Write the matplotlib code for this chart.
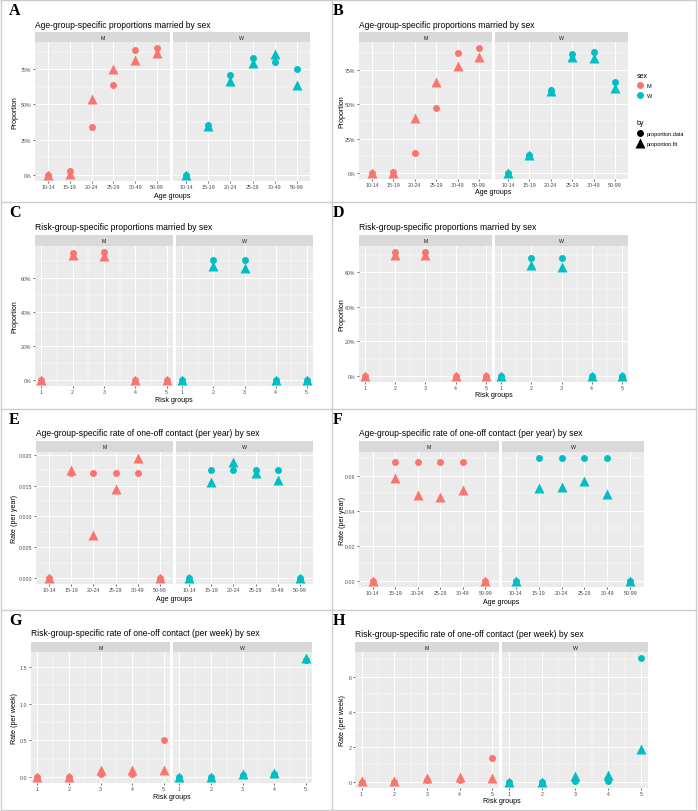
import matplotlib
matplotlib.use('Agg')
import matplotlib.pyplot as plt
from matplotlib.lines import Line2D
from matplotlib.ticker import AutoMinorLocator, FixedLocator, FuncFormatter
import numpy as np

plt.rcParams['font.family'] = ['Liberation Sans', 'DejaVu Sans']

RED = '#F8766D'
CYAN = '#00BFC4'

age_groups = ['10-14', '15-19', '20-24', '25-29', '30-49', '50-99']
risk_groups = [1, 2, 3, 4, 5]

# A: age-group-specific proportions married
a_m_data = [0.0, 0.024, 0.34, 0.64, 0.89, 0.90]
a_m_fit = [0.0, 0.005, 0.536, 0.75, 0.82, 0.865]
a_w_data = [0.0, 0.356, 0.707, 0.833, 0.80, 0.755]
a_w_fit = [0.0, 0.347, 0.67, 0.795, 0.86, 0.636]

# B
b_m_data = [0.0, 0.005, 0.144, 0.47, 0.873, 0.91]
b_m_fit = [0.0, 0.0, 0.403, 0.665, 0.78, 0.846]
b_w_data = [0.0, 0.132, 0.606, 0.868, 0.885, 0.663]
b_w_fit = [0.0, 0.127, 0.60, 0.843, 0.836, 0.616]

# C: risk-group-specific proportions married
c_m_data = [0.0, 0.748, 0.754, 0.0, 0.0]
c_m_fit = [0.0, 0.738, 0.73, 0.0, 0.0]
c_w_data = [0.0, 0.71, 0.71, 0.0, 0.0]
c_w_fit = [0.0, 0.675, 0.663, 0.0, 0.0]

# D
d_m_data = [0.0, 0.715, 0.715, 0.0, 0.0]
d_m_fit = [0.0, 0.698, 0.698, 0.0, 0.0]
d_w_data = [0.0, 0.68, 0.68, 0.0, 0.0]
d_w_fit = [0.0, 0.64, 0.63, 0.0, 0.0]

# E: age-group-specific rate of one-off contact (per year)
e_m_data = [0.0, 0.0171, 0.0171, 0.0171, 0.0171, 0.0]
e_m_fit = [0.0, 0.0176, 0.00704, 0.0144, 0.0195, 0.0]
e_w_data = [0.0, 0.0176, 0.0176, 0.0176, 0.0176, 0.0]
e_w_fit = [0.0, 0.01552, 0.0189, 0.0171, 0.0160, 0.0]

# F
f_m_data = [0.0, 0.0676, 0.0676, 0.0676, 0.0676, 0.0]
f_m_fit = [0.0, 0.0587, 0.049, 0.0477, 0.052, 0.0]
f_w_data = [0.0, 0.070, 0.070, 0.070, 0.070, 0.0]
f_w_fit = [0.0, 0.053, 0.0538, 0.0568, 0.0494, 0.0]

# G: risk-group-specific rate of one-off contact (per week)
g_m_data = [0.0, 0.0, 0.04, 0.04, 0.50]
g_m_fit = [0.005, 0.005, 0.09, 0.10, 0.10]
g_w_data = [0.005, 0.003, 0.03, 0.045, 1.59]
g_w_fit = [0.005, 0.005, 0.035, 0.05, 1.62]

# H
h_m_data = [0.0, 0.0, 0.08, 0.08, 1.36]
h_m_fit = [0.02, 0.02, 0.23, 0.25, 0.23]
h_w_data = [0.0, 0.0, 0.02, 0.02, 7.06]
h_w_fit = [0.01, 0.01, 0.36, 0.40, 1.87]

W, H = 698, 812
fig = plt.figure(figsize=(W / 100, H / 100), dpi=100)

MS_DOT = 5.0   # circle size (points)
MS_TRI = 6.6   # triangle size (points)


def rect(l, t, r, b):
    return [l / W, 1 - b / H, (r - l) / W, (b - t) / H]


def pct(v, pos):
    return f'{v * 100:.0f}%'


def draw_panel(letter, title, xlabel, ylabel, cats, series, box, yticks, yfmt):
    categorical = isinstance(cats[0], str)
    x = np.arange(1, len(cats) + 1) if categorical else np.array(cats)
    allv = np.concatenate([np.asarray(s) for s in series])
    rng = allv.max() - allv.min()
    ylo, yhi = allv.min() - 0.05 * rng, allv.max() + 0.05 * rng

    st, sb = box['strip']
    for k, (sex, col) in enumerate([('M', RED), ('W', CYAN)]):
        l, r = box['m'] if sex == 'M' else box['w']
        ax = fig.add_axes(rect(l, sb, r, box['bottom']))
        ax.set_facecolor('#EBEBEB')
        for sp in ax.spines.values():
            sp.set_visible(False)
        ax.set_axisbelow(True)
        if categorical:
            ax.set_xlim(0.4, len(cats) + 0.6)
            ax.set_xticks(x)
            ax.set_xticklabels(cats)
        else:
            ax.set_xlim(min(cats) - 0.2, max(cats) + 0.2)
            ax.set_xticks(cats)
            ax.xaxis.set_minor_locator(AutoMinorLocator(2))
        ax.set_ylim(ylo, yhi)
        ax.yaxis.set_major_locator(FixedLocator(yticks))
        ax.yaxis.set_minor_locator(AutoMinorLocator(2))
        ax.yaxis.set_major_formatter(FuncFormatter(yfmt))
        ax.grid(True, which='major', color='white', lw=0.7)
        ax.grid(True, which='minor', color='white', lw=0.35)
        ax.tick_params(which='major', length=1.5, width=0.5, color='#333333',
                       labelsize=3.8, labelcolor='#4D4D4D', pad=1)
        ax.tick_params(which='minor', length=0)
        if sex == 'W':
            ax.tick_params(axis='y', which='major', labelleft=False, length=0)
        data = series[2 * k]
        fit = series[2 * k + 1]
        ax.plot(x, data, 'o', color=col, ms=MS_DOT, mec='none', clip_on=False)
        ax.plot(x, fit, '^', color=col, ms=MS_TRI, mec='none', clip_on=False)

        sax = fig.add_axes(rect(l, st, r, sb))
        sax.set_facecolor('#D9D9D9')
        sax.set_xticks([])
        sax.set_yticks([])
        for sp in sax.spines.values():
            sp.set_visible(False)
        sax.text(0.5, 0.5, sex, ha='center', va='center', fontsize=3.8, color='#1A1A1A',
                 transform=sax.transAxes)

    ml = box['m'][0]
    wr = box['w'][1]
    fig.text(ml / W, 1 - box['title_y'] / H, title, ha='left', va='center', fontsize=6.15, color='black')
    fig.text((ml + wr) / 2 / W, 1 - box['xlabel_y'] / H, xlabel, ha='center', va='center',
             fontsize=5.1, color='black')
    fig.text(box['ylabel_x'] / W, 1 - (sb + box['bottom']) / 2 / H, ylabel, ha='center',
             va='center', rotation=90, fontsize=5.1, color='black')
    lx, ly = box['letter']
    fig.text(lx / W, 1 - ly / H, letter, ha='left', va='center', fontsize=11.5,
             fontweight='bold', family='Liberation Serif')


def fmt3(v, pos):
    return f'{v:.3f}'


def fmt2(v, pos):
    return f'{v:.2f}'


def fmt1(v, pos):
    return f'{v:.1f}'


def fmt0(v, pos):
    return f'{v:.0f}'


t_age_prop = 'Age-group-specific proportions married by sex'
t_risk_prop = 'Risk-group-specific proportions married by sex'
t_age_rate = 'Age-group-specific rate of one-off contact (per year) by sex'
t_risk_rate = 'Risk-group-specific rate of one-off contact (per week) by sex'

draw_panel('A', t_age_prop, 'Age groups', 'Proportion', age_groups,
           [a_m_data, a_m_fit, a_w_data, a_w_fit],
           dict(m=(35, 170), w=(173, 310), strip=(33, 43), bottom=182, title_y=25,
                xlabel_y=196, ylabel_x=15, letter=(9, 11)),
           [0, 0.25, 0.5, 0.75], pct)
draw_panel('B', t_age_prop, 'Age groups', 'Proportion', age_groups,
           [b_m_data, b_m_fit, b_w_data, b_w_fit],
           dict(m=(359, 492), w=(495, 628), strip=(33, 43), bottom=180, title_y=25,
                xlabel_y=193, ylabel_x=342, letter=(333, 11)),
           [0, 0.25, 0.5, 0.75], pct)
draw_panel('C', t_risk_prop, 'Risk groups', 'Proportion', risk_groups,
           [c_m_data, c_m_fit, c_w_data, c_w_fit],
           dict(m=(35, 173), w=(176, 313), strip=(236, 247), bottom=387, title_y=228,
                xlabel_y=401, ylabel_x=15, letter=(9, 213)),
           [0, 0.2, 0.4, 0.6], pct)
draw_panel('D', t_risk_prop, 'Risk groups', 'Proportion', risk_groups,
           [d_m_data, d_m_fit, d_w_data, d_w_fit],
           dict(m=(359, 492), w=(495, 628), strip=(236, 247), bottom=383, title_y=228,
                xlabel_y=396, ylabel_x=342, letter=(333, 213)),
           [0, 0.2, 0.4, 0.6], pct)
draw_panel('E', t_age_rate, 'Age groups', 'Rate (per year)', age_groups,
           [e_m_data, e_m_fit, e_w_data, e_w_fit],
           dict(m=(36, 173), w=(176, 313), strip=(442, 453), bottom=585, title_y=434,
                xlabel_y=600, ylabel_x=15, letter=(9, 420)),
           [0, 0.005, 0.01, 0.015, 0.02], fmt3)
draw_panel('F', t_age_rate, 'Age groups', 'Rate (per year)', age_groups,
           [f_m_data, f_m_fit, f_w_data, f_w_fit],
           dict(m=(359, 499), w=(502, 644), strip=(442, 453), bottom=588, title_y=434,
                xlabel_y=603, ylabel_x=342, letter=(333, 420)),
           [0, 0.02, 0.04, 0.06], fmt2)
draw_panel('G', t_risk_rate, 'Risk groups', 'Rate (per week)', risk_groups,
           [g_m_data, g_m_fit, g_w_data, g_w_fit],
           dict(m=(31, 170), w=(173, 312), strip=(643, 653), bottom=784, title_y=634,
                xlabel_y=798, ylabel_x=15, letter=(9, 621)),
           [0, 0.5, 1.0, 1.5], fmt1)
draw_panel('H', t_risk_rate, 'Risk groups', 'Rate (per week)', risk_groups,
           [h_m_data, h_m_fit, h_w_data, h_w_fit],
           dict(m=(355, 499), w=(502, 648), strip=(643, 653), bottom=789, title_y=635,
                xlabel_y=802, ylabel_x=343, letter=(333, 621)),
           [0, 2, 4, 6], fmt0)

# legend of panel B
sex_handles = [Line2D([], [], marker='o', ls='', color=RED, ms=MS_DOT, mec='none'),
               Line2D([], [], marker='o', ls='', color=CYAN, ms=MS_DOT, mec='none')]
by_handles = [Line2D([], [], marker='o', ls='', color='black', ms=MS_DOT, mec='none'),
              Line2D([], [], marker='^', ls='', color='black', ms=MS_TRI, mec='none')]
leg1 = fig.legend(sex_handles, ['M', 'W'], title='sex', loc='upper left',
                  bbox_to_anchor=(633 / W, 1 - 69 / H), frameon=False, fontsize=4,
                  title_fontsize=5, alignment='left', handlelength=1.2, handletextpad=0.6,
                  labelspacing=0.8, borderpad=0.2)
leg2 = fig.legend(by_handles, ['proportion.data', 'proportion.fit'], title='by',
                  loc='upper left', bbox_to_anchor=(633 / W, 1 - 116 / H), frameon=False,
                  fontsize=4, title_fontsize=5, alignment='left', handlelength=1.2,
                  handletextpad=0.6, labelspacing=0.9, borderpad=0.2)

# frame lines between the panels
line_kw = dict(color='#CCCCCC', lw=1, transform=fig.transFigure)
for yy in [1, 203, 410, 611, 811]:
    fig.add_artist(Line2D([1 / W, 696 / W], [1 - yy / H, 1 - yy / H], **line_kw))
for xx in [1, 332, 696]:
    fig.add_artist(Line2D([xx / W, xx / W], [1 - 1 / H, 1 - 811 / H], **line_kw))

plt.savefig('out.png', dpi=100)
plt.close(fig)
